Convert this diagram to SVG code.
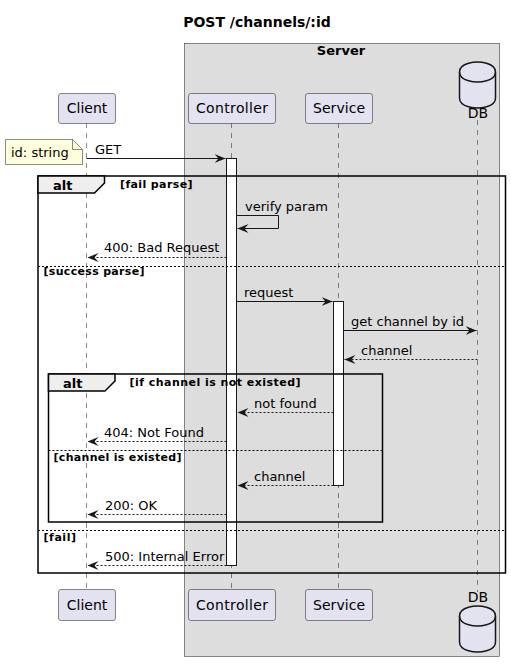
<svg xmlns="http://www.w3.org/2000/svg" width="511" height="668" viewBox="0 0 511 668">
<style>
text{font-family:"DejaVu Sans","Liberation Sans",sans-serif;fill:#000}
.t{font-size:14px;font-weight:bold}
.p{font-size:14px;text-anchor:middle}
.m{font-size:13px}
.g{font-size:13px;font-weight:bold}
.c{font-size:11px;font-weight:bold}
.part{fill:#E2E2F0;stroke:#181818;stroke-width:0.5}
.life{stroke:#181818;stroke-width:0.5;stroke-dasharray:5,5}
.act{fill:#FFFFFF;stroke:#181818;stroke-width:1}
.msg{stroke:#181818;stroke-width:1;fill:none;marker-end:url(#ah)}
.ret{stroke:#181818;stroke-width:1;fill:none;stroke-dasharray:2,2;marker-end:url(#ah)}
.frame{fill:none;stroke:#000;stroke-width:1.5}
.tab{fill:#EEEEEE;stroke:#000;stroke-width:1.5}
.sep{stroke:#000;stroke-width:1;stroke-dasharray:2,2}
</style>
<defs>
<marker id="ah" markerUnits="userSpaceOnUse" markerWidth="12" markerHeight="10" refX="11" refY="4.5" orient="auto">
<path d="M0,0 L11,4.5 L0,9 L4,4.5 Z" fill="#181818"/>
</marker>
</defs>
<text class="t" x="257" y="27" text-anchor="middle">POST /channels/:id</text>
<g id="server-box">
<rect x="184.5" y="43.5" width="315" height="613" fill="#DDDDDD" stroke="#181818" stroke-width="0.5"/>
<text class="g" x="341" y="55" text-anchor="middle">Server</text>
</g>
<g id="lifelines">
<line class="life" x1="86.5" y1="123" x2="86.5" y2="589"/>
<line class="life" x1="231.5" y1="123" x2="231.5" y2="589"/>
<line class="life" x1="338.5" y1="123" x2="338.5" y2="589"/>
<line class="life" x1="477.5" y1="120" x2="477.5" y2="592"/>
</g>
<g id="Client">
<rect class="part" x="58.5" y="93.5" width="57" height="30" rx="2.5"/>
<text class="p" x="87" y="113">Client</text>
<rect class="part" x="58.5" y="589.5" width="57" height="31" rx="2.5"/>
<text class="p" x="87" y="610">Client</text>
</g>
<g id="Controller">
<rect class="part" x="188.5" y="93.5" width="87" height="30" rx="2.5"/>
<text class="p" x="232" y="113" textLength="72">Controller</text>
<rect class="part" x="188.5" y="589.5" width="87" height="31" rx="2.5"/>
<text class="p" x="232" y="610" textLength="72">Controller</text>
</g>
<g id="Service">
<rect class="part" x="305.5" y="93.5" width="67" height="30" rx="2.5"/>
<text class="p" x="339" y="113" textLength="52">Service</text>
<rect class="part" x="305.5" y="589.5" width="67" height="31" rx="2.5"/>
<text class="p" x="339" y="610" textLength="52">Service</text>
</g>
<g id="DB">
<path d="M459.5,72 C459.5,62 477.5,62 477.5,62 C477.5,62 495.5,62 495.5,72 L495.5,98 C495.5,108 477.5,108 477.5,108 C477.5,108 459.5,108 459.5,98 Z" fill="#E2E2F0" stroke="#181818" stroke-width="1.5"/>
<path d="M459.5,72 C459.5,82 477.5,82 477.5,82 C477.5,82 495.5,82 495.5,72" fill="none" stroke="#181818" stroke-width="1.5"/>
<text class="p" x="478" y="118">DB</text>
<text class="p" x="478" y="602">DB</text>
<path d="M459.5,616 C459.5,606 477.5,606 477.5,606 C477.5,606 495.5,606 495.5,616 L495.5,642 C495.5,652 477.5,652 477.5,652 C477.5,652 459.5,652 459.5,642 Z" fill="#E2E2F0" stroke="#181818" stroke-width="1.5"/>
<path d="M459.5,616 C459.5,626 477.5,626 477.5,626 C477.5,626 495.5,626 495.5,616" fill="none" stroke="#181818" stroke-width="1.5"/>
</g>
<g id="activations">
<rect class="act" x="226.5" y="158.5" width="10" height="407"/>
<rect class="act" x="333.5" y="301.5" width="10" height="184"/>
</g>
<g id="note">
<path d="M5.5,139.5 L72.5,139.5 L82.5,149.5 L82.5,164.5 L5.5,164.5 Z" fill="#FEFFDD" stroke="#181818" stroke-width="0.5"/>
<path d="M72.5,139.5 L72.5,149.5 L82.5,149.5" fill="none" stroke="#181818" stroke-width="0.5"/>
<text class="m" x="11" y="157">id: string</text>
</g>
<g id="frames">
<rect class="frame" x="38" y="176" width="467.5" height="397"/>
<path class="tab" d="M38,176 L104.5,176 L104.5,183 L94.5,193 L38,193 Z"/>
<text class="g" x="53" y="190">alt</text>
<text class="c" x="120" y="188" textLength="72.5">[fail parse]</text>
<line class="sep" x1="38" y1="266.5" x2="505.5" y2="266.5"/>
<text class="c" x="43.5" y="275" textLength="101">[success parse]</text>
<line class="sep" x1="38" y1="530.5" x2="505.5" y2="530.5"/>
<text class="c" x="43.5" y="541" textLength="32.5">[fail]</text>
<rect class="frame" x="48.5" y="374" width="334" height="148"/>
<path class="tab" d="M48.5,374 L115,374 L115,381 L105,391 L48.5,391 Z"/>
<text class="g" x="63" y="388">alt</text>
<text class="c" x="129.5" y="386" textLength="171">[if channel is not existed]</text>
<line class="sep" x1="48.5" y1="450.5" x2="382.5" y2="450.5"/>
<text class="c" x="53.5" y="461" textLength="128">[channel is existed]</text>
</g>
<g id="connectors">
<line class="msg" x1="86.5" y1="158.5" x2="225.5" y2="158.5"/>
<text class="m" x="95" y="154">GET</text>
<polyline class="msg" points="236.5,215.5 278.5,215.5 278.5,228.5 237.5,228.5"/>
<text class="m" x="245" y="211">verify param</text>
<line class="ret" x1="226.5" y1="257.5" x2="87.5" y2="257.5"/>
<text class="m" x="104" y="252">400: Bad Request</text>
<line class="msg" x1="236.5" y1="301.5" x2="332.5" y2="301.5"/>
<text class="m" x="244" y="297">request</text>
<line class="msg" x1="343.5" y1="330.5" x2="476.5" y2="330.5"/>
<text class="m" x="351" y="326">get channel by id</text>
<line class="ret" x1="477.5" y1="359.5" x2="344.5" y2="359.5"/>
<text class="m" x="361" y="355">channel</text>
<line class="ret" x1="333.5" y1="412.5" x2="237.5" y2="412.5"/>
<text class="m" x="254" y="408">not found</text>
<line class="ret" x1="226.5" y1="441.5" x2="87.5" y2="441.5"/>
<text class="m" x="104" y="437">404: Not Found</text>
<line class="ret" x1="333.5" y1="485.5" x2="237.5" y2="485.5"/>
<text class="m" x="254" y="481">channel</text>
<line class="ret" x1="226.5" y1="514.5" x2="87.5" y2="514.5"/>
<text class="m" x="105" y="510">200: OK</text>
<line class="ret" x1="226.5" y1="565.5" x2="87.5" y2="565.5"/>
<text class="m" x="105" y="561">500: Internal Error</text>
</g>
</svg>
